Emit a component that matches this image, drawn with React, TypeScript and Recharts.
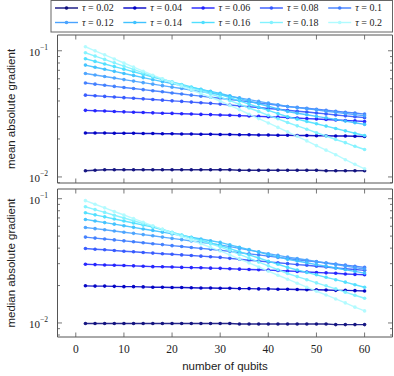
import React from 'react';
import { LineChart, Line, XAxis, YAxis } from 'recharts';

const qubits = [2, 4, 6, 8, 10, 12, 14, 16, 18, 20, 22, 24, 26, 28, 30, 32, 34, 36, 38, 40, 42, 44, 46, 48, 50, 52, 54, 56, 58, 60];
const tauLabels = ['0.02', '0.04', '0.06', '0.08', '0.1', '0.12', '0.14', '0.16', '0.18', '0.2'];
const tauColors = ['#10107e', '#0000c4', '#2222ff', '#3458ff', '#3f7dff', '#4aa3ff', '#40c2ff', '#4fdfff', '#82f2ff', '#b0fbff'];
const xTicks = [0, 10, 20, 30, 40, 50, 60];

// mean absolute gradient
const meanT02 = [0.0112, 0.0113, 0.0114, 0.0114, 0.0114, 0.0114, 0.0114, 0.0114, 0.0114, 0.0114, 0.0114, 0.0114, 0.0114, 0.0114, 0.0114, 0.0114, 0.0113, 0.0113, 0.0113, 0.0113, 0.0113, 0.0113, 0.0113, 0.0113, 0.0113, 0.0112, 0.0112, 0.0112, 0.0112, 0.0112];
const meanT04 = [0.0223, 0.0223, 0.0223, 0.0222, 0.0222, 0.0222, 0.0221, 0.0221, 0.0220, 0.0220, 0.0219, 0.0219, 0.0218, 0.0218, 0.0217, 0.0217, 0.0216, 0.0216, 0.0215, 0.0215, 0.0214, 0.0214, 0.0213, 0.0213, 0.0212, 0.0212, 0.0211, 0.0211, 0.0210, 0.0209];
const meanT06 = [0.0337, 0.0335, 0.0333, 0.0330, 0.0328, 0.0326, 0.0324, 0.0322, 0.0320, 0.0319, 0.0317, 0.0315, 0.0313, 0.0312, 0.0310, 0.0308, 0.0306, 0.0304, 0.0302, 0.0300, 0.0298, 0.0296, 0.0293, 0.0290, 0.0288, 0.0285, 0.0283, 0.0280, 0.0278, 0.0275];
const meanT08 = [0.0445, 0.0440, 0.0435, 0.0430, 0.0425, 0.0421, 0.0416, 0.0411, 0.0406, 0.0401, 0.0397, 0.0392, 0.0387, 0.0383, 0.0378, 0.0372, 0.0366, 0.0360, 0.0355, 0.0349, 0.0344, 0.0338, 0.0332, 0.0327, 0.0321, 0.0316, 0.0310, 0.0305, 0.0300, 0.0295];
const meanT10 = [0.0555, 0.0544, 0.0533, 0.0522, 0.0512, 0.0502, 0.0492, 0.0482, 0.0473, 0.0463, 0.0454, 0.0445, 0.0437, 0.0428, 0.0420, 0.0411, 0.0403, 0.0394, 0.0386, 0.0378, 0.0370, 0.0362, 0.0356, 0.0350, 0.0344, 0.0338, 0.0332, 0.0326, 0.0321, 0.0315];
const meanT12 = [0.0660, 0.0642, 0.0625, 0.0608, 0.0591, 0.0575, 0.0559, 0.0544, 0.0529, 0.0515, 0.0502, 0.0488, 0.0475, 0.0462, 0.0450, 0.0436, 0.0423, 0.0410, 0.0397, 0.0385, 0.0373, 0.0362, 0.0354, 0.0347, 0.0340, 0.0332, 0.0325, 0.0318, 0.0312, 0.0305];
const meanT14 = [0.0770, 0.0741, 0.0714, 0.0687, 0.0661, 0.0637, 0.0613, 0.0590, 0.0569, 0.0549, 0.0530, 0.0512, 0.0494, 0.0477, 0.0460, 0.0439, 0.0418, 0.0399, 0.0380, 0.0363, 0.0346, 0.0330, 0.0320, 0.0311, 0.0302, 0.0294, 0.0285, 0.0277, 0.0269, 0.0261];
const meanT16 = [0.0864, 0.0824, 0.0786, 0.0749, 0.0715, 0.0682, 0.0650, 0.0620, 0.0592, 0.0566, 0.0540, 0.0516, 0.0493, 0.0471, 0.0450, 0.0425, 0.0401, 0.0378, 0.0357, 0.0337, 0.0318, 0.0300, 0.0287, 0.0275, 0.0264, 0.0253, 0.0242, 0.0232, 0.0222, 0.0213];
const meanT18 = [0.0964, 0.0907, 0.0854, 0.0803, 0.0756, 0.0711, 0.0669, 0.0630, 0.0597, 0.0565, 0.0535, 0.0506, 0.0480, 0.0454, 0.0430, 0.0402, 0.0377, 0.0352, 0.0330, 0.0308, 0.0289, 0.0270, 0.0254, 0.0239, 0.0224, 0.0211, 0.0198, 0.0187, 0.0175, 0.0165];
const meanT20 = [0.1076, 0.0999, 0.0928, 0.0861, 0.0800, 0.0742, 0.0689, 0.0640, 0.0598, 0.0560, 0.0523, 0.0489, 0.0458, 0.0428, 0.0400, 0.0369, 0.0341, 0.0314, 0.0290, 0.0268, 0.0247, 0.0228, 0.0210, 0.0193, 0.0177, 0.0163, 0.0150, 0.0137, 0.0126, 0.0116];

// median absolute gradient
const medT02 = [0.0099, 0.0099, 0.0099, 0.0099, 0.0099, 0.0099, 0.0099, 0.0099, 0.0099, 0.0099, 0.0099, 0.0099, 0.0099, 0.0099, 0.0099, 0.0099, 0.0098, 0.0098, 0.0098, 0.0098, 0.0098, 0.0098, 0.0098, 0.0098, 0.0098, 0.0098, 0.0097, 0.0097, 0.0097, 0.0097];
const medT04 = [0.0199, 0.0198, 0.0198, 0.0197, 0.0196, 0.0196, 0.0195, 0.0194, 0.0194, 0.0193, 0.0193, 0.0192, 0.0191, 0.0191, 0.0190, 0.0190, 0.0189, 0.0189, 0.0188, 0.0188, 0.0187, 0.0187, 0.0186, 0.0185, 0.0185, 0.0184, 0.0183, 0.0183, 0.0182, 0.0181];
const medT06 = [0.0297, 0.0295, 0.0293, 0.0291, 0.0290, 0.0288, 0.0286, 0.0284, 0.0283, 0.0282, 0.0280, 0.0279, 0.0278, 0.0276, 0.0275, 0.0273, 0.0271, 0.0269, 0.0268, 0.0266, 0.0264, 0.0262, 0.0260, 0.0257, 0.0255, 0.0253, 0.0251, 0.0248, 0.0246, 0.0244];
const medT08 = [0.0397, 0.0392, 0.0388, 0.0383, 0.0378, 0.0374, 0.0369, 0.0365, 0.0361, 0.0357, 0.0353, 0.0349, 0.0345, 0.0341, 0.0337, 0.0331, 0.0326, 0.0320, 0.0315, 0.0310, 0.0305, 0.0300, 0.0295, 0.0291, 0.0286, 0.0282, 0.0277, 0.0273, 0.0269, 0.0265];
const medT10 = [0.0491, 0.0482, 0.0474, 0.0466, 0.0458, 0.0450, 0.0442, 0.0434, 0.0427, 0.0419, 0.0412, 0.0405, 0.0398, 0.0392, 0.0385, 0.0377, 0.0368, 0.0360, 0.0353, 0.0345, 0.0337, 0.0330, 0.0323, 0.0317, 0.0310, 0.0304, 0.0298, 0.0292, 0.0286, 0.0280];
const medT12 = [0.0587, 0.0574, 0.0562, 0.0549, 0.0537, 0.0526, 0.0514, 0.0503, 0.0491, 0.0479, 0.0468, 0.0457, 0.0446, 0.0435, 0.0425, 0.0411, 0.0398, 0.0386, 0.0373, 0.0361, 0.0350, 0.0339, 0.0330, 0.0321, 0.0312, 0.0304, 0.0295, 0.0287, 0.0279, 0.0272];
const medT14 = [0.0681, 0.0661, 0.0642, 0.0624, 0.0606, 0.0588, 0.0571, 0.0555, 0.0538, 0.0521, 0.0505, 0.0489, 0.0474, 0.0459, 0.0445, 0.0425, 0.0407, 0.0389, 0.0372, 0.0355, 0.0340, 0.0325, 0.0315, 0.0305, 0.0295, 0.0286, 0.0277, 0.0268, 0.0260, 0.0252];
const medT16 = [0.0770, 0.0741, 0.0714, 0.0687, 0.0661, 0.0637, 0.0613, 0.0590, 0.0562, 0.0535, 0.0510, 0.0486, 0.0463, 0.0441, 0.0420, 0.0396, 0.0374, 0.0353, 0.0333, 0.0314, 0.0297, 0.0280, 0.0267, 0.0255, 0.0244, 0.0233, 0.0223, 0.0213, 0.0203, 0.0194];
const medT18 = [0.0861, 0.0817, 0.0776, 0.0736, 0.0699, 0.0664, 0.0630, 0.0598, 0.0567, 0.0537, 0.0508, 0.0482, 0.0456, 0.0433, 0.0410, 0.0382, 0.0356, 0.0332, 0.0309, 0.0288, 0.0268, 0.0250, 0.0236, 0.0223, 0.0210, 0.0199, 0.0188, 0.0177, 0.0167, 0.0158];
const medT20 = [0.0964, 0.0902, 0.0844, 0.0789, 0.0739, 0.0691, 0.0647, 0.0605, 0.0566, 0.0530, 0.0496, 0.0464, 0.0434, 0.0406, 0.0380, 0.0353, 0.0327, 0.0304, 0.0282, 0.0261, 0.0242, 0.0225, 0.0209, 0.0194, 0.0180, 0.0168, 0.0156, 0.0145, 0.0134, 0.0125];

const meanSeries = [meanT02, meanT04, meanT06, meanT08, meanT10, meanT12, meanT14, meanT16, meanT18, meanT20];
const medSeries = [medT02, medT04, medT06, medT08, medT10, medT12, medT14, medT16, medT18, medT20];

const W = 394;
const H = 376;
const PLOT_LEFT = 57.5;
const PLOT_RIGHT = 392.5;
const X_DOMAIN: [number, number] = [-3.8, 65.8];
const FRAME = '#555';
const SERIF = '"Liberation Serif", "DejaVu Serif", serif';
const SANS = '"Liberation Sans", "DejaVu Sans", sans-serif';
const candidateYTicks = [0.007, 0.008, 0.009, 0.01, 0.02, 0.03, 0.04, 0.05, 0.06, 0.07, 0.08, 0.09, 0.1, 0.2];

const isMajor = (v: number) => Math.abs(v - 0.1) < 1e-9 || Math.abs(v - 0.01) < 1e-9;

function Panel({ series, top, bottom, domain, showXLabels }: any) {
  const data = qubits.map((q, i) => {
    const row: any = { q };
    series.forEach((s: number[], k: number) => { row['s' + k] = s[i]; });
    return row;
  });
  const yTicks = candidateYTicks.filter((t) => t >= domain[0] && t <= domain[1]);

  const bottomTick = (props: any) => {
    const { x, payload } = props;
    return (
      <g>
        <line x1={x} x2={x} y1={bottom} y2={bottom - 4.5} stroke={FRAME} strokeWidth={0.8} />
        {showXLabels && (
          <text x={x} y={bottom + 15.5} textAnchor="middle" fontFamily={SERIF} fontSize={11.5} fill="#222">
            {payload.value}
          </text>
        )}
      </g>
    );
  };
  const topTick = (props: any) => {
    const { x } = props;
    return <line x1={x} x2={x} y1={top} y2={top + 4.5} stroke={FRAME} strokeWidth={0.8} />;
  };
  const leftTick = (props: any) => {
    const { y, payload } = props;
    const major = isMajor(payload.value);
    const exp = payload.value > 0.05 ? '−1' : '−2';
    return (
      <g>
        <line x1={PLOT_LEFT} x2={PLOT_LEFT + (major ? 4.5 : 2.5)} y1={y} y2={y} stroke={FRAME} strokeWidth={0.8} />
        {major && (
          <text x={48} y={y + 5} textAnchor="end" fontFamily={SERIF} fontSize={11} fill="#222">
            10
            <tspan dy={-5.5} fontSize={7.5}>{exp}</tspan>
          </text>
        )}
      </g>
    );
  };
  const rightTick = (props: any) => {
    const { y, payload } = props;
    const major = isMajor(payload.value);
    return <line x1={PLOT_RIGHT} x2={PLOT_RIGHT - (major ? 4.5 : 2.5)} y1={y} y2={y} stroke={FRAME} strokeWidth={0.8} />;
  };

  return (
    <div style={{ position: 'absolute', left: 0, top: 0 }}>
      <LineChart
        width={W}
        height={H}
        data={data}
        margin={{ top: top - 1, bottom: H - bottom - 1, left: 0, right: W - PLOT_RIGHT - 1 }}
      >
        <XAxis
          dataKey="q"
          type="number"
          domain={X_DOMAIN}
          allowDataOverflow
          ticks={xTicks}
          interval={0}
          height={1}
          tickLine={false}
          axisLine={{ stroke: FRAME, strokeWidth: 1 }}
          tick={bottomTick}
        />
        <XAxis
          xAxisId="top"
          orientation="top"
          dataKey="q"
          type="number"
          domain={X_DOMAIN}
          allowDataOverflow
          ticks={xTicks}
          interval={0}
          height={1}
          tickLine={false}
          axisLine={{ stroke: FRAME, strokeWidth: 1 }}
          tick={topTick}
        />
        <YAxis
          scale="log"
          type="number"
          domain={domain}
          allowDataOverflow
          ticks={yTicks}
          interval={0}
          width={PLOT_LEFT}
          tickLine={false}
          axisLine={{ stroke: FRAME, strokeWidth: 1 }}
          tick={leftTick}
        />
        <YAxis
          yAxisId="right"
          orientation="right"
          scale="log"
          type="number"
          domain={domain}
          allowDataOverflow
          ticks={yTicks}
          interval={0}
          width={1}
          tickLine={false}
          axisLine={{ stroke: FRAME, strokeWidth: 1 }}
          tick={rightTick}
        />
        {series.map((_: number[], k: number) => (
          <Line
            key={k}
            dataKey={'s' + k}
            stroke={tauColors[k]}
            strokeWidth={1.4}
            strokeOpacity={0.9}
            dot={{ r: 1.8, fill: tauColors[k], stroke: 'none', fillOpacity: 0.95 }}
            activeDot={false}
            isAnimationActive={false}
          />
        ))}
      </LineChart>
    </div>
  );
}

function Overlay() {
  const colW = 68.3;
  return (
    <svg width={W} height={H} style={{ position: 'absolute', left: 0, top: 0, pointerEvents: 'none' }}>
      <rect x={51} y={0.5} width={341.5} height={31.5} fill="#fff" stroke="#666" strokeWidth={1} />
      {tauLabels.map((lab, i) => {
        const col = i % 5;
        const row = Math.floor(i / 5);
        const x0 = 55 + col * colW;
        const y0 = row === 0 ? 8 : 22.5;
        return (
          <g key={lab}>
            <line x1={x0} x2={x0 + 23} y1={y0} y2={y0} stroke={tauColors[i]} strokeWidth={1.4} />
            <circle cx={x0 + 11.5} cy={y0} r={1.8} fill={tauColors[i]} />
            <text x={x0 + 27} y={y0 + 3.4} fontFamily={SERIF} fontSize={10} fill="#222">
              <tspan fontStyle="italic">τ</tspan>
              {' = ' + lab}
            </text>
          </g>
        );
      })}
      <text
        transform="translate(11,109) rotate(-90)"
        textAnchor="middle"
        dominantBaseline="central"
        fontFamily={SANS}
        fontSize={11.5}
        fill="#222"
      >
        mean absolute gradient
      </text>
      <text
        transform="translate(11,263) rotate(-90)"
        textAnchor="middle"
        dominantBaseline="central"
        fontFamily={SANS}
        fontSize={11.5}
        fill="#222"
      >
        median absolute gradient
      </text>
      <text x={225} y={369.5} textAnchor="middle" fontFamily={SANS} fontSize={11.5} fill="#222">
        number of qubits
      </text>
    </svg>
  );
}

export default function App() {
  return (
    <div style={{ position: 'absolute', left: 0, top: 0, width: W, height: H, background: '#fff' }}>
      <Panel series={meanSeries} top={35} bottom={183} domain={[0.008954, 0.13335]} showXLabels={false} />
      <Panel series={medSeries} top={189} bottom={337} domain={[0.00771, 0.11967]} showXLabels={true} />
      <Overlay />
    </div>
  );
}
